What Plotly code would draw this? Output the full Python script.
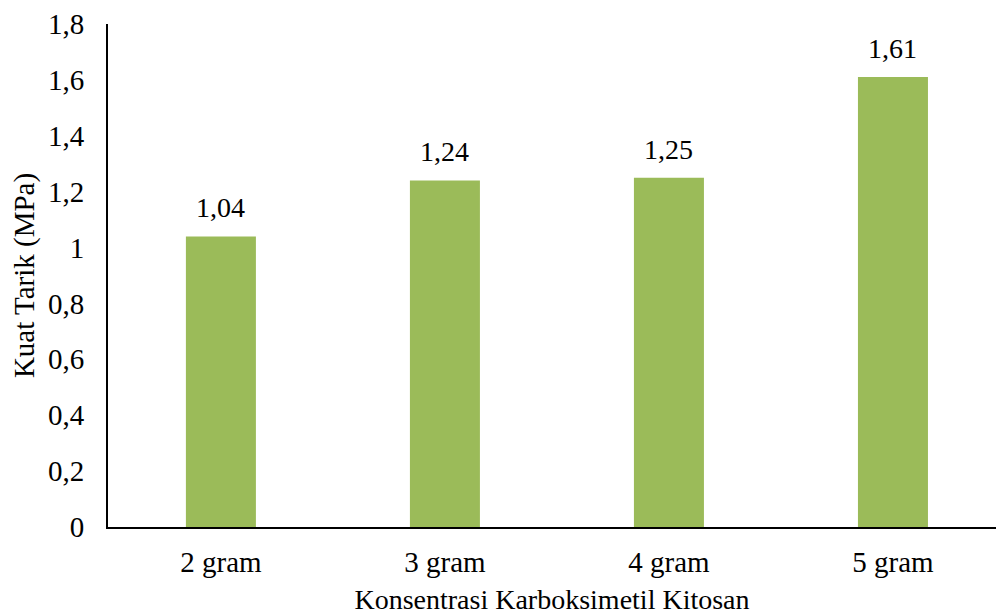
import plotly.graph_objects as go

# Tensile strength of film by carboxymethyl chitosan concentration
categories = ["2 gram", "3 gram", "4 gram", "5 gram"]
kuat_tarik = [1.04, 1.24, 1.25, 1.61]
y_ticks = [0, 0.2, 0.4, 0.6, 0.8, 1.0, 1.2, 1.4, 1.6, 1.8]

FONT = "Liberation Serif"
BAR_COLOR = "#9BBB59"
BLACK = "#000000"

fig = go.Figure()
fig.add_trace(go.Bar(
    x=categories,
    y=kuat_tarik,
    marker=dict(color=BAR_COLOR, line=dict(width=0)),
    width=0.3125,
    hoverinfo="skip",
))

# value labels above each bar
for cat, val in zip(categories, kuat_tarik):
    fig.add_annotation(
        x=cat, y=val,
        text=f"{val:.2f}".replace(".", ","),
        showarrow=False,
        yanchor="bottom",
        yshift=11,
        font=dict(family=FONT, size=28, color=BLACK),
    )

fig.update_layout(
    width=996, height=615,
    margin=dict(l=108, r=0, t=24, b=88),
    paper_bgcolor="white",
    plot_bgcolor="white",
    separators=",.",
    showlegend=False,
    font=dict(family=FONT, size=28, color=BLACK),
)

fig.update_xaxes(
    range=[-0.504, 3.46],
    automargin=False,
    showline=True, linecolor=BLACK, linewidth=2,
    showgrid=False, zeroline=False,
    ticks="", ticklabelstandoff=8,
    tickfont=dict(family=FONT, size=29, color=BLACK),
    title=dict(text="Konsentrasi Karboksimetil Kitosan",
               font=dict(family=FONT, size=28, color=BLACK),
               standoff=24),
)

fig.update_yaxes(
    range=[0, 1.8],
    tickvals=y_ticks,
    automargin=False,
    showline=True, linecolor=BLACK, linewidth=2,
    showgrid=False, zeroline=False,
    ticks="", ticklabelstandoff=16,
    tickfont=dict(family=FONT, size=29, color=BLACK),
    title=dict(text="Kuat Tarik (MPa)",
               font=dict(family=FONT, size=29, color=BLACK),
               standoff=5),
)

fig.write_html("out.html")
